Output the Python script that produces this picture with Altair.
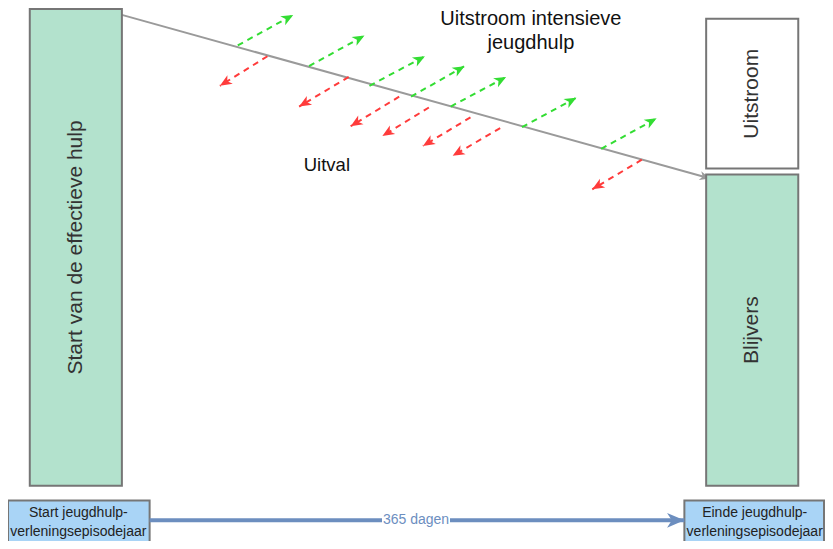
import altair as alt
import pandas as pd
import numpy as np

# ---------------- content ----------------
box_labels = ["Start van de effectieve hulp", "Uitstroom", "Blijvers", "", ""]
box_x1 = [30, 713, 713, 8, 691]
box_x2 = [123, 806, 806, 151, 832]
box_y1 = [9, 19, 177, 508, 508]
box_y2 = [493, 171, 493, 553, 553]
box_fill = ["#b3e2cd", "#ffffff", "#b3e2cd", "#a9d4f6", "#a9d4f6"]

# flow line (start of help -> end of year)
flow_x = [123, 717]
flow_y = [15, 181]

# outflow (green) arrows: start on flow line -> tip
green_x1 = [240, 312, 373, 415, 455, 527, 607]
green_y1 = [46, 67, 87, 98, 108, 129, 151]
green_x2 = [296, 368, 429, 469, 511, 582, 663]
green_y2 = [15, 36, 57, 67, 78, 99, 120]

# dropout (red) arrows
red_x1 = [270, 352, 403, 433, 475, 505, 648]
red_y1 = [57, 78, 98, 109, 119, 130, 162]
red_x2 = [222, 302, 354, 386, 427, 457, 598]
red_y2 = [87, 108, 128, 138, 148, 158, 192]

# time axis arrow
time_x = [151, 691]
time_y = [528, 528]
time_label = "365 dagen"

# free labels
label_text = ["Uitstroom intensieve", "jeugdhulp", "Uitval"]
label_x = [536, 536, 330]
label_y = [19, 44, 167]
label_size = [20, 20, 18.5]

bottom_text = ["Start jeugdhulp-", "verleningsepisodejaar", "Einde jeugdhulp-", "verleningsepisodejaar"]
bottom_x = [79, 79, 762, 762]
bottom_y = [521, 540, 521, 540]

# ---------------- build ----------------
W, H = 817, 533
xs = alt.Scale(domain=[8, 833], nice=False, zero=False)
ys = alt.Scale(domain=[8, 549], reverse=True, nice=False, zero=False)
X = lambda f: alt.X(f, type="quantitative", scale=xs, axis=None)
Y = lambda f: alt.Y(f, type="quantitative", scale=ys, axis=None)

ARROW = "M0,0 L-0.85,2 L0,1.45 L0.85,2 Z"


def heading(x1, y1, x2, y2):
    return float(np.degrees(np.arctan2(x2 - x1, -(y2 - y1))) % 360)


boxes = pd.DataFrame({"x1": box_x1, "x2": box_x2, "y1": box_y1, "y2": box_y2,
                      "fill": box_fill})
rects = alt.Chart(boxes).mark_rect(stroke="#767676", strokeWidth=2).encode(
    x=X("x1"), x2="x2", y=Y("y1"), y2="y2",
    fill=alt.Fill("fill:N", scale=None),
)

box_txt = pd.DataFrame({"t": box_labels[:3],
                        "x": [(a + b) / 2 for a, b in zip(box_x1[:3], box_x2[:3])],
                        "y": [(a + b) / 2 for a, b in zip(box_y1[:3], box_y2[:3])]})
box_text = alt.Chart(box_txt).mark_text(angle=270, fontSize=21, font="Liberation Sans",
                                        color="#333333", align="center", baseline="middle").encode(
    x=X("x"), y=Y("y"), text="t:N")


def arrow_layers(x1, y1, x2, y2, color, width, dash, size):
    df = pd.DataFrame({"x1": x1, "y1": y1, "x2": x2, "y2": y2})
    df["ang"] = [heading(a, b, c, d) for a, b, c, d in zip(x1, y1, x2, y2)]
    kw = {"strokeDash": dash} if dash else {}
    line = alt.Chart(df).mark_rule(color=color, strokeWidth=width, **kw).encode(
        x=X("x1"), y=Y("y1"), x2="x2", y2="y2")
    head = alt.Chart(df).mark_point(shape=ARROW, filled=True, opacity=1, size=size,
                                    color=color, strokeWidth=0).encode(
        x=X("x2"), y=Y("y2"), angle=alt.Angle("ang:Q", scale=None))
    return line + head


grey = arrow_layers([flow_x[0]], [flow_y[0]], [flow_x[1]], [flow_y[1]], "#9a9a9a", 2, None, 110)
greens = arrow_layers(green_x1, green_y1, green_x2, green_y2, "#33dd33", 2, [6, 5], 144)
reds = arrow_layers(red_x1, red_y1, red_x2, red_y2, "#ff3b3b", 2, [6, 5], 144)
blue = arrow_layers([time_x[0]], [time_y[0]], [time_x[1]], [time_y[1]], "#6c8ebf", 4, None, 300)

tl = pd.DataFrame({"t": [time_label], "x": [(time_x[0] + time_x[1]) / 2 - 1], "y": [time_y[0]]})
tl_bg = alt.Chart(tl).mark_rect(color="white", width=68, height=14).encode(x=X("x"), y=Y("y"))
tl_text = alt.Chart(tl).mark_text(fontSize=14, font="Liberation Sans", color="#6c8ebf",
                                  align="center", baseline="middle").encode(
    x=X("x"), y=Y("y"), text="t:N")

labels = pd.DataFrame({"t": label_text, "x": label_x, "y": label_y, "s": label_size})
label_marks = alt.Chart(labels).mark_text(font="Liberation Sans", color="#111111",
                                          align="center", baseline="middle").encode(
    x=X("x"), y=Y("y"), text="t:N", size=alt.Size("s:Q", scale=None))

bt = pd.DataFrame({"t": bottom_text, "x": bottom_x, "y": bottom_y})
bottom_marks = alt.Chart(bt).mark_text(font="Liberation Sans", fontSize=14, color="#222222",
                                       align="center", baseline="middle").encode(
    x=X("x"), y=Y("y"), text="t:N")

chart = alt.layer(
    grey, greens, reds, rects, box_text, blue, tl_bg, tl_text, label_marks, bottom_marks
).properties(
    width=W, height=H, padding=0,
    autosize=alt.AutoSizeParams(type="none"),
).configure_view(stroke=None)

chart.save("out.html", embed_options={"renderer": "svg", "actions": False})
